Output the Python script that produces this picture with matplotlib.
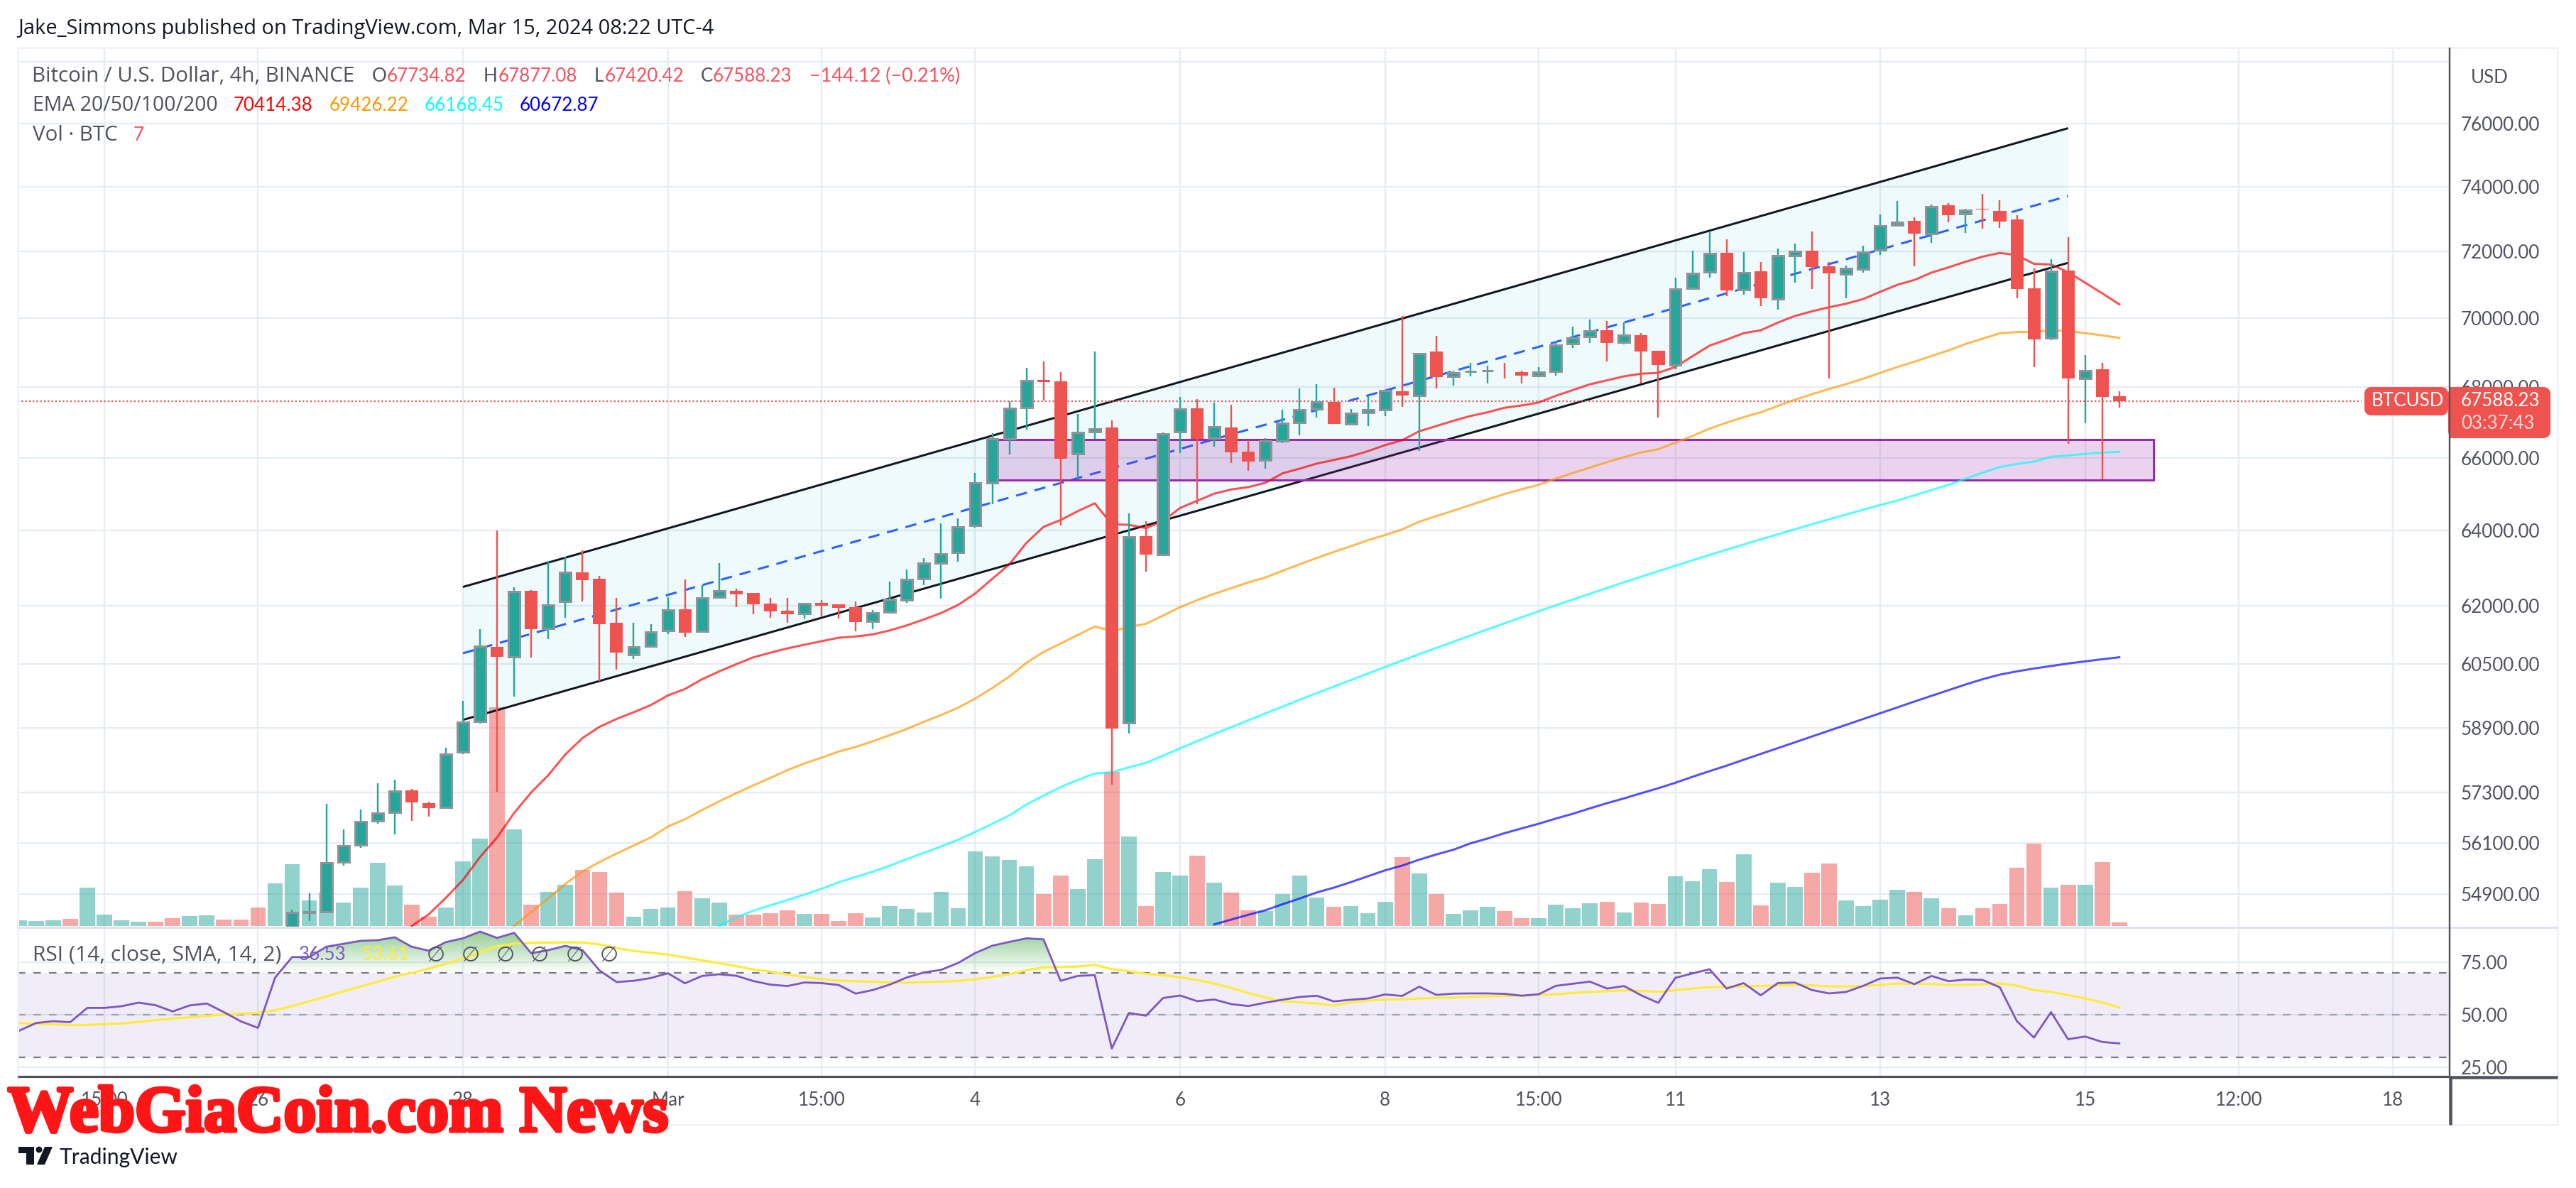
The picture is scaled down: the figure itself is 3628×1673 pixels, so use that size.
import numpy as np
import matplotlib
matplotlib.use("Agg")
import matplotlib.pyplot as plt
from matplotlib.path import Path
from matplotlib.patches import FancyBboxPatch, Rectangle, Polygon, Circle
from matplotlib.colors import LinearSegmentedColormap
import matplotlib.patheffects as pe

# ---------- data (bar index 0 = 28 Feb 00:00) ----------
candle_start = -10
opens = [54150,54470,54500,55650,56055,56620,56825,57360,57050,56945,58295,59050,60940,60690,62400,61410,62120,62885,62715,61565,60740,60955,61360,61915,61335,62225,62405,62344,62062,61885,61800,62080,62050,61975,61600,61840,62155,62720,63130,63420,64140,65310,66530,67415,68215,68170,66105,66725,66855,59017,63855,63350,66725,67400,66545,66850,66170,65930,66465,66985,67370,67575,66955,67270,67350,67880,67760,69020,68305,68450,68465,68480,68430,68325,68450,69250,69465,69650,69300,69510,69050,68640,70895,71380,71965,70845,71400,70570,71880,72020,71555,71320,71465,72050,72800,72940,72555,73420,73155,73310,73255,72980,70895,69420,71425,68240,68510,67734.82]
highs = [54535,54920,57037,56420,56900,57535,57615,57395,57090,58400,59565,61400,64005,62500,62410,63180,63310,63475,62790,62210,61565,61530,62225,62700,62550,63130,62460,62344,62216,62216,62080,62155,62050,62120,61900,62650,62970,63270,64200,64340,65580,66690,67595,68550,68740,68440,67225,69030,67050,64470,64260,66720,67710,67660,67557,67495,66510,66550,67355,67960,68085,67980,67370,67765,67900,70070,68970,69486,68470,68700,68615,68700,68470,68570,69330,69760,69966,69925,69880,69570,69050,71215,72030,72615,72370,71985,71680,72094,72245,72610,71680,71575,72180,73135,73550,73050,73450,73490,73315,73780,73570,73110,71490,71765,72440,68925,68700,67877.08]
lows = [54100,54290,54455,55570,55985,56555,56300,56625,56730,56910,58235,59000,57320,59680,60670,61139,61700,62120,60070,60355,60635,60920,61260,61200,61310,62210,61970,61785,61695,61570,61680,61710,61680,61340,61400,61810,62080,62555,62195,63175,64085,64730,66095,66790,67620,64150,65400,66530,57495,58750,62905,63345,66140,64730,66320,65860,65640,65700,66415,66635,67140,66955,66915,66890,67175,67435,66200,67965,68045,68310,68105,68250,68105,68325,68330,69130,69280,68740,69240,68105,67130,68515,70895,71205,70670,70710,70375,70250,71070,70880,68255,70605,71370,71905,72770,71565,72270,72905,72575,72700,72730,70600,68565,69360,66390,66975,65400,67420.42]
closes = [54470,54490,55634,56040,56610,56810,57345,57060,56935,58250,59040,60960,60680,62385,61405,62030,62890,62680,61530,60790,60945,61325,61900,61310,62210,62400,62300,62047,61860,61785,62062,62010,61950,61580,61820,62170,62700,63140,63370,64095,65300,66535,67400,68190,68150,65980,66715,66810,58866,63845,63360,66670,67375,66530,66865,66150,65900,66465,66975,67360,67585,66960,67250,67350,67895,67760,68970,68295,68415,68460,68480,68470,68320,68440,69220,69430,69640,69280,69500,69030,68640,70880,71350,71950,70840,71370,70600,71885,72015,71545,71350,71490,71995,72790,72900,72555,73390,73125,73280,73285,72925,70880,69390,71415,68255,68470,67725,67588.23]

vol_start = -26
volumes = [8,7,8,10,54,16,8,6,6,11,14,15,9,9,26,60,87,36,47,33,54,89,57,30,13,26,91,123,308,136,30,48,58,79,76,47,13,24,26,49,39,33,16,16,18,22,17,17,7,18,12,28,24,19,48,25,105,98,93,84,45,71,52,94,217,126,28,76,71,99,61,47,22,21,45,71,40,27,28,18,34,97,74,45,17,22,27,21,11,11,30,25,32,34,19,33,31,70,63,80,62,101,29,61,55,75,88,36,28,37,51,48,39,25,15,25,31,82,116,54,58,58,90,5]
early_vol_up = [1,1,1,0,1,1,1,1,0,0,1,1,0,0,0,1]

ema20_start = -3
ema20 = [54167,54436,54816,55229,55767,56230,56815,57310,57727,58237,58638,58919,59115,59282,59460,59702,59865,60112,60310,60495,60670,60790,60900,60995,61085,61175,61207,61260,61365,61495,61650,61815,62027,62330,62715,63100,63675,64105,64290,64530,64745,64175,64160,64070,64265,64620,64815,65010,65125,65190,65310,65570,65700,65840,65940,66045,66185,66355,66490,66745,66890,67040,67175,67280,67410,67475,67560,67750,67915,68080,68195,68310,68385,68410,68580,68890,69200,69375,69565,69650,69875,70072,70210,70330,70435,70575,70790,71000,71145,71365,71525,71695,71850,71960,71895,71630,71610,71380,71060,70745,70414.38]
ema50_start = 3
ema50 = [54170,54487,54805,55140,55430,55650,55850,56040,56230,56490,56665,56885,57095,57290,57480,57660,57850,58015,58155,58305,58420,58560,58710,58865,59045,59210,59395,59625,59890,60180,60530,60810,61025,61245,61465,61350,61450,61535,61750,61970,62155,62320,62470,62620,62750,62930,63100,63270,63430,63585,63745,63885,64035,64245,64395,64545,64700,64850,65000,65130,65255,65425,65580,65730,65880,66020,66150,66240,66425,66610,66820,66985,67145,67280,67460,67640,67795,67945,68085,68240,68410,68580,68730,68900,69060,69250,69405,69560,69600,69600,69650,69625,69565,69500,69426.22]
ema100_start = 15
ema100 = [54170,54365,54517,54643,54765,54890,55025,55175,55300,55425,55565,55720,55870,56015,56175,56360,56555,56755,57020,57230,57440,57610,57770,57797,57920,58030,58205,58385,58565,58740,58910,59082,59252,59423,59593,59762,59929,60094,60258,60425,60590,60753,60913,61073,61232,61392,61550,61707,61862,62017,62169,62323,62474,62625,62773,62917,63063,63207,63350,63492,63631,63770,63905,64041,64176,64310,64440,64570,64700,64820,64965,65110,65255,65420,65587,65745,65830,65895,66030,66065,66110,66145,66168.45]
ema200_start = 44
ema200 = [54205,54315,54425,54530,54668,54800,54940,55051,55180,55318,55455,55566,55705,55828,55939,56090,56205,56332,56445,56557,56680,56795,56925,57050,57165,57290,57410,57543,57687,57825,57960,58104,58247,58390,58533,58678,58822,58967,59112,59257,59402,59550,59693,59836,59980,60114,60230,60312,60385,60449,60513,60568,60622,60672.87]

rsi_start = -26
rsi = [42.5,46.2,47.1,46.6,53.4,53.4,54.2,55.9,54.7,51.7,54.6,55.5,51.4,47,43.9,67.8,77.6,77.6,82.5,83.9,85.3,85.6,87,82.5,80.6,84.7,86.5,89.7,86.7,89.1,79.4,80.9,82.9,80.9,71.2,65.7,66.3,67.6,69.9,65.1,68.6,69.4,68.7,66.2,64.5,63.8,65.5,65.2,64.3,60.2,61.9,64.5,67.9,70.3,71.5,74.8,79.5,83,84.8,86.5,86,66.3,68.6,69,34.1,51,49.7,58.1,59.3,56.6,57.4,55.2,54.3,55.9,57.3,58.6,59.2,56.5,57.3,57.9,59.8,59.1,63.5,59.6,60.2,60.3,60.3,60.1,59.2,59.9,63.9,64.9,65.9,62.6,63.8,59.4,55.8,67.7,69.8,71.8,62.6,65.2,59.4,65.2,65.5,61.9,60.3,61,63.9,67.4,67.8,64.7,68.6,66.1,66.9,66.7,63.2,47.1,39.3,51.4,38.5,39.8,37.2,36.53]
rsi_sma = [46.2,45.8,45.6,45.2,45.3,45.7,46,46.7,47.6,48.4,48.9,49.6,50.3,50.8,51.1,52.3,54.3,56.6,58.8,61.3,63.6,65.9,68.3,70.1,72.1,74.4,76.9,80,82.7,84,84.4,84.5,84.6,84.5,83.6,81.9,80.5,79.6,78.8,77.4,76,74.7,73.3,71.7,70.7,69.3,68.1,67,66.4,66.1,65.9,65.5,65.4,65.7,65.9,66.2,67,68.1,69.5,71.3,72.7,72.9,73.1,73.9,71.8,70.9,69.6,68.9,68,66.7,65,62.9,60.5,58.4,56.6,56.1,55.5,54.5,56.1,56.8,57.4,57.5,57.9,58.1,58.3,58.7,59,59.2,59.3,59.6,59.9,60.5,61,61.4,61.7,61.5,61.1,61.8,62.6,63.3,63.5,63.7,63.8,64.1,64.3,64.1,63.7,63.6,63.7,64.4,65,64.9,64.8,64.3,64.4,64.6,65,64,61.9,61,59.5,57.9,56,53.61]

channel_upper = [62500, 75850]
channel_lower = [59090, 71660]
channel_mid = [60775, 73710]
channel_bars = [0, 94]
zone_prices = [65385, 66512]
zone_bars = [31, 99]
last_price = 67588.23

price_ticks = [78000,76000,74000,72000,70000,68000,66000,64000,62000,60500,58900,57300,56100,54900]
rsi_ticks = [75,50,25]
time_ticks = [-21,-12,0,12,21,30,42,54,63,71,83,95,104,113]
time_labels = ["15:00","26","28","Mar","15:00","4","6","8","15:00","11","13","15","12:00","18"]

# ---------- layout ----------
W, H = 3628, 1673
DPI = 100
px = 72.0 / DPI
FONT = "Lato"
LABEL_FONT = "Open Sans"
plt.rcParams["font.family"] = [FONT, "DejaVu Sans"]
fig = plt.figure(figsize=(W / DPI, H / DPI), dpi=DPI, facecolor="white")

def box(l, t, r, b):
    return [l / W, 1 - b / H, (r - l) / W, (b - t) / H]

XLIM = (-26.07, 116.3)
GRID = "#e6edf3"
UP, DOWN, BORDER = "#26a69a", "#ef5350", "#8f9399"
TXT = "#50535e"

ax_bg = fig.add_axes(box(25, 67, 3449, 1305), zorder=1)
ax_vol = fig.add_axes(box(25, 67, 3449, 1305), zorder=2)
ax = fig.add_axes(box(25, 67, 3449, 1305), zorder=3)
ax_rsi = fig.add_axes(box(25, 1306, 3449, 1515), zorder=3)
ov = fig.add_axes([0, 0, 1, 1], zorder=10)
ov.set_xlim(0, W); ov.set_ylim(H, 0); ov.axis("off"); ov.patch.set_alpha(0)

PRICE_LIM = (54152, 78475)
for a in (ax_bg, ax):
    a.set_yscale("log")
    a.set_ylim(*PRICE_LIM)
    a.set_xlim(*XLIM)
for a in (ax_vol, ax):
    a.patch.set_alpha(0)
    a.set_xticks([]); a.set_yticks([]); a.minorticks_off()
    a.tick_params(which="both", left=False, right=False, labelleft=False, labelright=False)
    for s in a.spines.values():
        s.set_visible(False)

# price axis + grid
ax_bg.yaxis.tick_right()
ax_bg.minorticks_off()
ax_bg.set_yticks(price_ticks)
ax_bg.set_yticklabels([("" if p == 78000 else f"{p:.2f}") for p in price_ticks])
ax_bg.set_xticks(time_ticks); ax_bg.set_xticklabels([])
ax_bg.tick_params(axis="y", which="major", length=0, pad=17 * px, labelsize=26 * px, labelcolor=TXT)
ax_bg.tick_params(axis="y", which="minor", length=0, labelright=False)
ax_bg.tick_params(axis="x", length=0)
ax_bg.grid(True, color=GRID, lw=2.4 * px)
ax_bg.set_axisbelow(True)
for s in ax_bg.spines.values():
    s.set_visible(False)

# volume
vx = np.arange(vol_start, vol_start + len(volumes))
cand_x = np.arange(candle_start, candle_start + len(opens))
cand_up = [c >= o for o, c in zip(opens, closes)]
vol_up = [bool(v) for v in early_vol_up] + cand_up
ax_vol.set_xlim(*XLIM); ax_vol.set_ylim(-1, 1237)
ax_vol.bar(vx, volumes, width=0.9, color=[UP if u else DOWN for u in vol_up], alpha=0.5, lw=0)

# drawings
ax.fill_between(channel_bars, channel_lower, channel_upper, color="#00bcd4", alpha=0.065, lw=0, zorder=2)
ax.plot(channel_bars, channel_upper, color="#131722", lw=3 * px, zorder=3, solid_capstyle="butt")
ax.plot(channel_bars, channel_lower, color="#131722", lw=3 * px, zorder=3, solid_capstyle="butt")
ax.plot(channel_bars, channel_mid, color="#2962ff", lw=3 * px, ls=(0, (5.3, 3.7)), zorder=3)
ax.add_patch(Rectangle((zone_bars[0], zone_prices[0]), zone_bars[1] - zone_bars[0], zone_prices[1] - zone_prices[0],
                       facecolor="#9c27b0", alpha=0.2, lw=0, zorder=3.2))
ax.add_patch(Rectangle((zone_bars[0], zone_prices[0]), zone_bars[1] - zone_bars[0], zone_prices[1] - zone_prices[0],
                       facecolor="none", edgecolor="#9c27b0", lw=3 * px, zorder=3.3))

# price line
ax.hlines(last_price, XLIM[0], 111.2, color=DOWN, lw=2.2 * px, ls=(0, (1, 1.4)), zorder=3.5)

# EMAs
for start, vals, col in [(ema200_start, ema200, "#0000ff"), (ema100_start, ema100, "#00ffff"),
                         (ema50_start, ema50, "#ff9800"), (ema20_start, ema20, "#ff0000")]:
    ax.plot(np.arange(start, start + len(vals)), vals, color=col, alpha=0.68, lw=3 * px, zorder=4,
            solid_joinstyle="round")

# candles
for x, o, h, l, c, u in zip(cand_x, opens, highs, lows, closes, cand_up):
    col = UP if u else DOWN
    ax.vlines(x, l, h, color=col, lw=2.4 * px, zorder=5)
    lo, hi = min(o, c), max(o, c)
    if u:
        ax.bar(x, hi - lo, bottom=lo, width=0.66, color=col, edgecolor=BORDER, linewidth=3 * px, zorder=6)
    else:
        ax.bar(x, hi - lo, bottom=lo, width=0.75, color=col, linewidth=0, zorder=6)
ax.set_xlim(*XLIM); ax.set_ylim(*PRICE_LIM)

# RSI pane
RSI_LIM = (21.11, 91.7)
xr = np.arange(rsi_start, rsi_start + len(rsi))
rsi_arr = np.array(rsi)
ax_rsi.set_facecolor("white")
ax_rsi.set_xlim(*XLIM); ax_rsi.set_ylim(*RSI_LIM)
ax_rsi.yaxis.tick_right()
ax_rsi.set_yticks(rsi_ticks)
ax_rsi.set_yticklabels([f"{v:.2f}" for v in rsi_ticks])
ax_rsi.set_xticks(time_ticks)
ax_rsi.set_xticklabels(time_labels)
ax_rsi.tick_params(axis="y", length=0, pad=17 * px, labelsize=26 * px, labelcolor=TXT)
ax_rsi.tick_params(axis="x", length=0, pad=22 * px, labelsize=26 * px, labelcolor=TXT)
ax_rsi.grid(True, color=GRID, lw=2.4 * px)
ax_rsi.set_axisbelow(True)
for s in ax_rsi.spines.values():
    s.set_visible(False)
ax_rsi.axhspan(30, 70, color="#7e57c2", alpha=0.1, lw=0, zorder=1.5)
for lvl, a_ in [(70, 1), (30, 1), (50, 0.6)]:
    ax_rsi.axhline(lvl, color="#787b86", lw=2.2 * px, ls=(0, (4.8, 5.2)), alpha=a_, zorder=2)
poly = ax_rsi.fill_between(xr, 70, rsi_arr, where=rsi_arr >= 70, interpolate=True, facecolor="none", lw=0)
clip = Path.make_compound_path(*poly.get_paths())
grad = LinearSegmentedColormap.from_list("g", [(0.30, 0.69, 0.31, 0.62), (0.30, 0.69, 0.31, 0.0)])
im = ax_rsi.imshow(np.linspace(0, 1, 128)[:, None], extent=[XLIM[0], XLIM[1], 70, 90], aspect="auto", cmap=grad,
                   origin="upper", zorder=2.2)
im.set_clip_path(clip, transform=ax_rsi.transData)
ax_rsi.set_xlim(*XLIM); ax_rsi.set_ylim(*RSI_LIM)
ax_rsi.plot(xr, rsi_sma, color="#ffeb3b", lw=3.2 * px, zorder=3)
ax_rsi.plot(xr, rsi, color="#7e57c2", lw=2.8 * px, zorder=4)

# ---------- chrome ----------
def hl(y, x0, x1, c, lw):
    ov.plot([x0, x1], [y, y], color=c, lw=lw * px, solid_capstyle="butt")
def vl(x, y0, y1, c, lw):
    ov.plot([x, x], [y0, y1], color=c, lw=lw * px, solid_capstyle="butt")
hl(67, 25, 3602, "#f0f3fa", 3)
hl(1584, 25, 3602, "#f0f3fa", 3)
vl(25, 67, 1584, "#f0f3fa", 3)
vl(3602, 67, 1584, "#f0f3fa", 3)
hl(1305.5, 25, 3602, "#e0e3eb", 3)
vl(3449.5, 67, 1515, "#50535e", 2.4)
hl(1516, 25, 3449, "#50535e", 3.2)
hl(1517, 3449, 3602, "#50535e", 4.5)
vl(3451, 1515, 1584, "#50535e", 4.5)

def t(x, y, s, c=TXT, fs=26, ha="left", **kw):
    ov.text(x, y, s, color=c, fontsize=fs * px, ha=ha, va="center", **kw)

t(25, 40, "Jake_Simmons published on TradingView.com, Mar 15, 2024 08:22 UTC-4", c="#131722", fs=29,
  family=LABEL_FONT)
LY1, LY2, LY3, LY4 = 107, 148, 190, 1345
RED = "#f7525f"
t(45, LY1, "Bitcoin / U.S. Dollar, 4h, BINANCE", fs=29.5, family=LABEL_FONT)
for lx, vx_, lab, val in [(524, 545, "O", "67734.82"), (681, 702, "H", "67877.08"),
                          (837, 852, "L", "67420.42"), (987, 1004, "C", "67588.23")]:
    t(lx, LY1, lab); t(vx_, LY1, val, c=RED)
t(1140, LY1, "\u2212144.12 (\u22120.21%)", c=RED, fs=27)
t(46, LY2, "EMA 20/50/100/200", fs=28.5, family=LABEL_FONT)
for lx, val, col in [(329, "70414.38", "#ff0000"), (464, "69426.22", "#ff9800"),
                     (598, "66168.45", "#00ffff"), (732, "60672.87", "#0000ff")]:
    t(lx, LY2, val, c=col)
t(46, LY3, "Vol \u00b7 BTC", fs=29.5, family=LABEL_FONT); t(188, LY3, "7", c=RED)
t(46, LY4, "RSI (14, close, SMA, 14, 2)", fs=30, family=LABEL_FONT)
t(421, LY4, "36.53", c="#7e57c2"); t(510, LY4, "53.61", c="#ffeb3b")
for lx in (614, 663, 712, 760, 810, 858):
    t(lx, LY4, "\u2205", ha="center", fs=30, family="DejaVu Sans")
t(3506, 109, "USD", ha="center")

# price labels
ov.add_patch(FancyBboxPatch((3334, 549), 110, 32, boxstyle="round,pad=0,rounding_size=6", fc=DOWN, ec=DOWN, lw=8 * px))
ov.add_patch(FancyBboxPatch((3452, 549), 136, 64, boxstyle="round,pad=0,rounding_size=6", fc=DOWN, ec=DOWN, lw=8 * px))
ov.add_patch(Rectangle((3449, 545), 10, 72, fc=DOWN, ec="none"))
t(3340, 565, "BTCUSD", c="white")
t(3466, 565, "67588.23", c="white")
t(3466, 596, "03:37:43", c="#fcdcdb")

# watermark
ov.text(11, 1571, "WebGiaCoin.com News", color="#ff1515", fontsize=92 * px, family="Liberation Serif",
        weight="bold", ha="left", va="center",
        path_effects=[pe.withStroke(linewidth=5 * px, foreground="#ff1515")])

# TradingView logo
ov.add_patch(Rectangle((26, 1615), 22, 9, fc="#131722", ec="none"))
ov.add_patch(Rectangle((37, 1624), 11, 16, fc="#131722", ec="none"))
ov.add_patch(Circle((55, 1619), 4.4, fc="#131722", ec="none"))
ov.add_patch(Polygon([[63, 1615], [74, 1615], [63, 1640], [52, 1640]], closed=True, fc="#131722", ec="none"))
t(83, 1630, "TradingView", c="#131722", fs=30)

fig.savefig("out.png", dpi=DPI, facecolor="white")
